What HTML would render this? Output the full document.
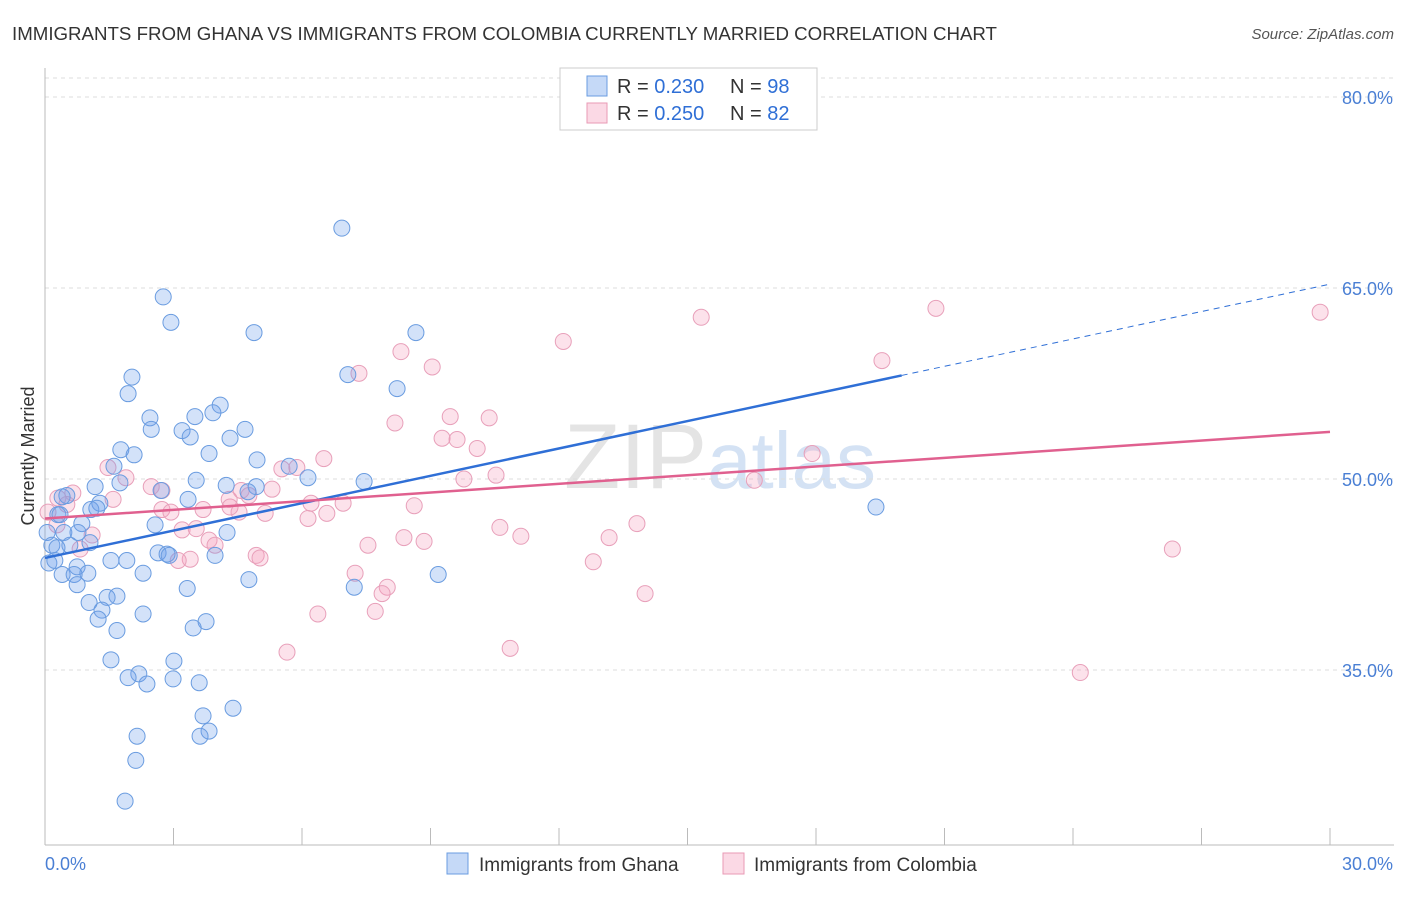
<!DOCTYPE html>
<html><head><meta charset="utf-8"><style>
body{margin:0;background:#fff;font-family:"Liberation Sans",sans-serif;}
svg text{font-family:"Liberation Sans",sans-serif;}
</style></head><body>
<svg id="chart" width="1406" height="892" xmlns="http://www.w3.org/2000/svg">
<text x="12" y="40" font-size="18.7" fill="#333">IMMIGRANTS FROM GHANA VS IMMIGRANTS FROM COLOMBIA CURRENTLY MARRIED CORRELATION CHART</text>
<text x="1394" y="39" font-size="15" fill="#555" font-style="italic" text-anchor="end">Source: ZipAtlas.com</text>
<text x="720" y="488" font-size="92" text-anchor="middle" fill="#e4e4e4" font-family="Liberation Serif"><tspan>ZIP</tspan><tspan fill="#d4e2f4" font-family="Liberation Sans" font-size="80">atlas</tspan></text>
<g id="grid"></g>
<g id="axes"></g>
<g id="pts"></g>
<g id="trends"></g>
<text transform="translate(34,456) rotate(-90)" font-size="18" fill="#333" text-anchor="middle">Currently Married</text>
<g>
<rect x="560" y="68" width="257" height="62" fill="#fff" stroke="#ccc"/>
<rect x="587" y="76" width="20" height="20" fill="rgba(110,160,235,0.4)" stroke="#6a9ce0"/>
<rect x="587" y="103" width="20" height="20" fill="rgba(245,160,190,0.4)" stroke="#e89ab5"/>
<text x="617" y="93" font-size="20" fill="#333">R = <tspan fill="#2f6fd6">0.230</tspan></text>
<text x="730" y="93" font-size="20" fill="#333">N = <tspan fill="#2f6fd6">98</tspan></text>
<text x="617" y="120" font-size="20" fill="#333">R = <tspan fill="#2f6fd6">0.250</tspan></text>
<text x="730" y="120" font-size="20" fill="#333">N = <tspan fill="#2f6fd6">82</tspan></text>
</g>
<g>
<rect x="447" y="853" width="21" height="21" fill="rgba(110,160,235,0.4)" stroke="#6a9ce0"/>
<text x="479" y="871" font-size="19" fill="#333">Immigrants from Ghana</text>
<rect x="723" y="853" width="21" height="21" fill="rgba(245,160,190,0.4)" stroke="#e89ab5"/>
<text x="754" y="871" font-size="19" fill="#333">Immigrants from Colombia</text>
</g>
</svg>
<script>
const yTicks=[35,50,65,80];
const xTickLabels=["0.0%","30.0%"];
const ghanaX=[6.93,2.76,2.94,4.88,8.66,2.03,7.07,1.94,8.22,4.09,2.45,3.50,3.92,2.48,3.20,4.67,3.39,4.32,1.77,2.08,3.83,4.95,1.61,5.70,3.53,6.14,7.45,1.75,1.17,4.23,4.93,2.71,4.74,0.51,0.40,1.28,3.34,1.07,1.21,0.30,0.86,2.57,4.25,0.05,0.44,0.77,0.58,0.16,1.05,2.64,2.85,2.90,3.97,1.91,1.54,0.75,1.00,2.29,0.40,0.68,9.18,4.76,0.75,3.32,7.22,1.68,1.45,1.03,1.33,2.29,1.24,3.76,3.46,1.68,1.54,3.01,2.19,1.94,2.99,2.38,3.60,4.39,3.69,3.83,3.62,2.15,2.12,1.87,19.40,0.09,0.28,0.35,0.23];
const ghanaY=[69.7,64.3,62.3,61.5,61.5,58.0,58.2,56.7,57.1,55.8,54.8,54.9,55.2,53.9,53.8,53.9,53.3,53.2,52.3,51.9,52.0,51.5,51.0,51.0,49.9,50.1,49.8,49.7,49.4,49.5,49.4,49.1,49.0,48.7,48.6,48.1,48.4,47.6,47.7,47.2,46.5,46.4,45.8,45.8,45.8,45.8,44.8,44.8,45.0,44.2,44.1,44.0,44.0,43.6,43.6,43.1,42.6,42.6,42.5,42.5,42.5,42.1,41.7,41.4,41.5,40.8,40.7,40.3,39.7,39.4,39.0,38.8,38.3,38.1,35.8,35.7,34.7,34.4,34.3,33.9,34.0,32.0,31.4,30.2,29.8,29.8,27.9,24.7,47.8,43.4,44.6,47.2,43.6];
const colX=[29.77,20.80,15.32,12.10,19.54,8.31,9.04,7.33,9.46,10.37,8.17,9.27,9.62,10.09,6.51,17.91,16.56,5.88,5.53,1.47,1.89,10.53,9.78,2.48,0.65,0.30,1.59,0.51,2.73,4.30,4.58,5.30,4.76,2.73,2.94,3.69,4.53,5.14,6.21,6.14,6.58,6.96,8.62,0.07,0.28,1.10,0.82,3.20,3.53,3.83,3.97,3.39,3.11,4.93,5.02,10.62,11.11,8.38,8.85,7.54,13.17,13.82,12.80,26.32,7.24,7.99,7.87,7.71,14.01,6.37,5.65,10.86,24.17,4.32];
const colY=[63.1,63.4,62.7,60.8,59.3,60.0,58.8,58.3,54.9,54.8,54.4,53.2,53.1,52.4,51.6,52.0,49.9,50.9,50.8,50.9,50.1,50.3,50.0,49.4,48.9,48.5,48.4,48.0,49.1,48.4,49.1,49.2,48.7,47.6,47.4,47.6,47.4,47.3,48.1,46.9,47.3,48.1,47.9,47.4,46.4,45.6,44.5,46.0,46.1,45.2,44.8,43.7,43.6,44.0,43.8,46.2,45.5,45.4,45.1,44.8,45.4,46.5,43.5,44.5,42.6,41.5,41.0,39.6,41.0,39.4,36.4,36.7,34.8,47.8];
const ghanaTrend=[43.8,65.3];
const colTrend=[46.9,53.7];
const ghanaSolidEnd=20.0;
const NS="http://www.w3.org/2000/svg";
const X=v=>45+v/30*1285;
const Y=v=>479-(v-50)*191/15;
function mk(tag,attrs,parent){const e=document.createElementNS(NS,tag);for(const k in attrs)e.setAttribute(k,attrs[k]);document.getElementById(parent).appendChild(e);return e;}
yTicks.forEach(t=>{
 const l=mk('line',{x1:45,x2:1394,y1:Y(t),y2:Y(t),stroke:'#ddd','stroke-dasharray':'4,4'},'grid');
 
 
 const tx=mk('text',{x:1393,y:Y(t)+7,'font-size':18,fill:'#4a7fd4','text-anchor':'end'},'grid');
 tx.textContent=t.toFixed(1)+'%';
 
 
});
const topLine=mk('line',{x1:45,x2:1394,y1:78,y2:78,stroke:'#ddd','stroke-dasharray':'4,4'},'grid');


const ya=mk('line',{x1:45,x2:45,y1:68,y2:845,stroke:'#bbb'},'axes');


const xa=mk('line',{x1:45,x2:1394,y1:845,y2:845,stroke:'#bbb'},'axes');


for(let i=0;i<=10;i++){const t=mk('line',{x1:X(i*3),x2:X(i*3),y1:828,y2:845,stroke:'#bbb'},'axes');
 
 }
const xl0=mk('text',{x:45,y:870,'font-size':18,fill:'#4a7fd4'},'axes');xl0.textContent=xTickLabels[0];


const xl1=mk('text',{x:1393,y:870,'font-size':18,fill:'#4a7fd4','text-anchor':'end'},'axes');xl1.textContent=xTickLabels[1];


colX.forEach((v,i)=>{const c=mk('circle',{cx:X(v),cy:Y(colY[i]),r:8,fill:'rgba(245,160,190,0.3)',stroke:'#e8a0ba','stroke-width':1},'pts');
 
 });
ghanaX.forEach((v,i)=>{const c=mk('circle',{cx:X(v),cy:Y(ghanaY[i]),r:8,fill:'rgba(110,160,235,0.3)',stroke:'#6a9ce0','stroke-width':1},'pts');
 
 });
const gAt=x=>ghanaTrend[0]+(ghanaTrend[1]-ghanaTrend[0])*x/30;
const g1=mk('line',{x1:X(0),y1:Y(gAt(0)),x2:X(ghanaSolidEnd),y2:Y(gAt(ghanaSolidEnd)),stroke:'#2f6fd6','stroke-width':2.5},'trends');


const g2=mk('line',{x1:X(ghanaSolidEnd),y1:Y(gAt(ghanaSolidEnd)),x2:X(30),y2:Y(gAt(30)),stroke:'#2f6fd6','stroke-width':1,'stroke-dasharray':'6,5'},'trends');


const p1=mk('line',{x1:X(0),y1:Y(colTrend[0]),x2:X(30),y2:Y(colTrend[1]),stroke:'#e0608f','stroke-width':2.5},'trends');


</script>
</body></html>
